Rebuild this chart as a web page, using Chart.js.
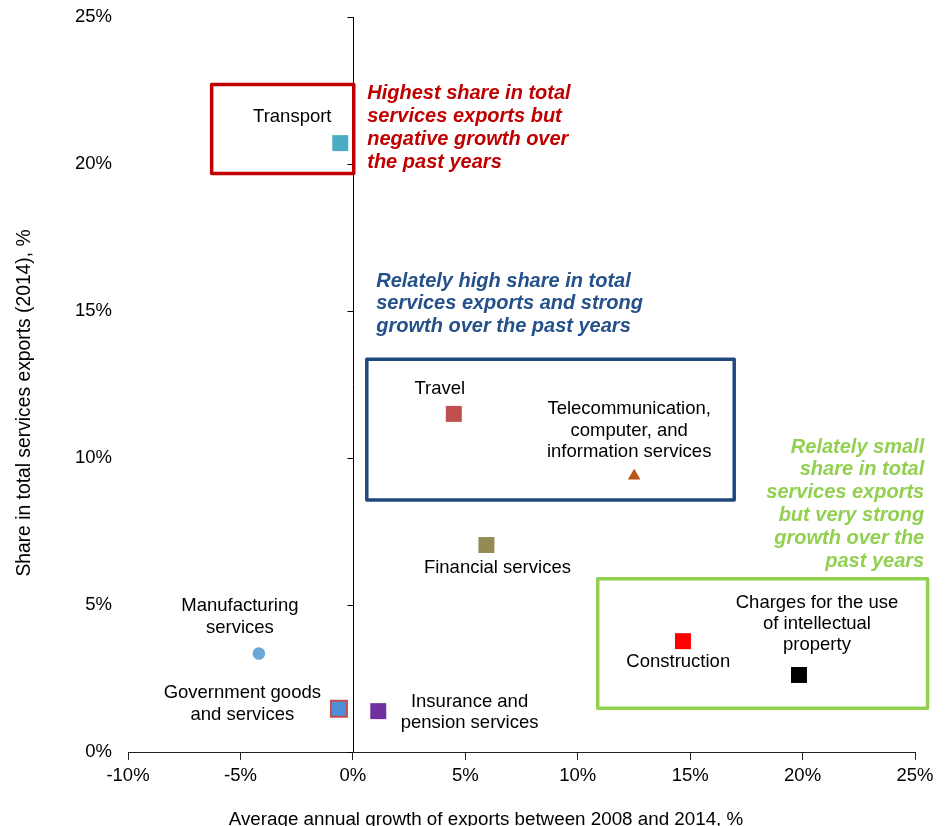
<!DOCTYPE html>
<html>
<head>
<meta charset="utf-8">
<script src="https://cdn.jsdelivr.net/npm/chart.js@4.4.1/dist/chart.umd.min.js"></script>
<style>
  html, body { margin: 0; padding: 0; background: #fff; }
  #wrap { width: 949px; height: 826px; position: relative; }
</style>
</head>
<body>
<div id="wrap"><canvas id="c" width="949" height="826"></canvas></div>
<script>
// ---- Data ----
const categories = [
  'Transport',
  'Travel',
  'Telecommunication, computer, and information services',
  'Financial services',
  'Manufacturing services',
  'Government goods and services',
  'Insurance and pension services',
  'Construction',
  'Charges for the use of intellectual property'
];
// Average annual growth of exports 2008-2014, %
const growth = [-0.56, 4.49, 12.51, 5.94, -4.18, -0.62, 1.13, 14.68, 19.84];
// Share in total services exports (2014), %
const share = [20.71, 11.50, 9.39, 7.04, 3.35, 1.47, 1.39, 3.77, 2.62];
const xTickValues = [-10, -5, 0, 5, 10, 15, 20, 25];
const yTickValues = [0, 5, 10, 15, 20, 25];
const pointLabelLines = [
  ['Transport'],
  ['Travel'],
  ['Telecommunication,', 'computer, and', 'information services'],
  ['Financial services'],
  ['Manufacturing', 'services'],
  ['Government goods', 'and services'],
  ['Insurance and', 'pension services'],
  ['Construction'],
  ['Charges for the use', 'of intellectual', 'property']
];
const xTitle = 'Average annual growth of exports between 2008 and 2014, %';
const yTitle = 'Share in total services exports (2014), %';

// ---- Styles ----
const pointFill = ['#4BACC6', '#C0504D', '#B8531A', '#948A54', '#6AA6D6', '#4F8FD9', '#7030A0', '#FF0000', '#000000'];
const pointBorder = ['#4BACC6', '#C0504D', '#B8531A', '#948A54', '#6AA6D6', '#C0504D', '#7030A0', '#FF0000', '#000000'];
const pointBorderW = [0, 0, 0, 0, 0, 2, 0, 0, 0];
const pointShape = ['rect', 'rect', 'triangle', 'rect', 'circle', 'rect', 'rect', 'rect', 'rect'];
const pointRad = [11.3, 11.3, 7.3, 11.3, 6.3, 11.3, 11.3, 11.3, 11.3];
// label offsets in px relative to point (center of first line)
const labelOffsets = [[-48, -26], [-14, -25], [-5, -66.6], [11, 22.6], [-19, -47.3], [-96.6, -15.4], [91.3, -9.3], [-4.7, 20.7], [18, -72.3]];

// annotation boxes (in axis units)
const boxes = [
  { x0: -6.28, x1: 0.04, y0: 19.68, y1: 22.70, color: '#C00000' },
  { x0: 0.62, x1: 16.96, y0: 8.57, y1: 13.36, color: '#1F497D' },
  { x0: 10.89, x1: 25.56, y0: 1.49, y1: 5.89, color: '#92D050' }
];
const notes = [
  { x: 0.64, y: 22.39, align: 'left', color: '#C00000',
    lines: ['Highest share in total', 'services exports but', 'negative growth over', 'the past years'] },
  { x: 1.04, y: 16.02, align: 'left', color: '#24518A',
    lines: ['Relately high share in total', 'services exports and strong', 'growth over the past years'] },
  { x: 25.41, y: 10.37, align: 'right', color: '#92D050',
    lines: ['Relately small', 'share in total', 'services exports', 'but very strong', 'growth over the', 'past years'] }
];

const FONT = "'Liberation Sans', Arial, sans-serif";
Chart.defaults.font.family = FONT;
Chart.defaults.color = '#000';

const overlay = {
  id: 'overlay',
  beforeDatasetsDraw(chart) {
    const ctx = chart.ctx, xs = chart.scales.x, ys = chart.scales.y;
    const x0 = Math.round(xs.getPixelForValue(0)) + 0.5;
    ctx.save();
    ctx.strokeStyle = '#000';
    ctx.lineWidth = 1;
    ctx.beginPath();
    ctx.moveTo(x0, ys.getPixelForValue(yTickValues[0]));
    ctx.lineTo(x0, ys.getPixelForValue(yTickValues[yTickValues.length - 1]));
    yTickValues.forEach(v => {
      const py = Math.round(ys.getPixelForValue(v)) + 0.5;
      ctx.moveTo(x0 - 6, py);
      ctx.lineTo(x0, py);
    });
    ctx.stroke();
    ctx.restore();
  },
  afterDatasetsDraw(chart) {
    const ctx = chart.ctx, xs = chart.scales.x, ys = chart.scales.y;
    ctx.save();
    // boxes
    boxes.forEach(b => {
      const l = xs.getPixelForValue(b.x0), r = xs.getPixelForValue(b.x1);
      const t = ys.getPixelForValue(b.y1), bt = ys.getPixelForValue(b.y0);
      ctx.strokeStyle = b.color;
      ctx.lineWidth = 3.5;
      ctx.lineJoin = 'round';
      ctx.strokeRect(l, t, r - l, bt - t);
    });
    // point labels
    ctx.fillStyle = '#000';
    ctx.font = '18.5px ' + FONT;
    ctx.textAlign = 'center';
    ctx.textBaseline = 'middle';
    for (let i = 0; i < categories.length; i++) {
      const px = xs.getPixelForValue(growth[i]);
      const py = ys.getPixelForValue(share[i]);
      const [dx, dy] = labelOffsets[i];
      pointLabelLines[i].forEach((ln, k) => {
        ctx.fillText(ln, px + dx, py + dy + k * 21.2);
      });
    }
    // notes
    ctx.font = 'italic bold 20px ' + FONT;
    notes.forEach(n => {
      ctx.fillStyle = n.color;
      ctx.textAlign = n.align;
      const px = xs.getPixelForValue(n.x);
      const py = ys.getPixelForValue(n.y);
      n.lines.forEach((ln, k) => ctx.fillText(ln, px, py + k * 22.8));
    });
    // axis titles
    ctx.fillStyle = '#000';
    ctx.font = '18.8px ' + FONT;
    ctx.textAlign = 'center';
    ctx.textBaseline = 'alphabetic';
    ctx.fillText(xTitle, 486, 825);
    ctx.font = '19.3px ' + FONT;
    ctx.translate(25, 403);
    ctx.rotate(-Math.PI / 2);
    ctx.textBaseline = 'middle';
    ctx.fillText(yTitle, 0, 0);
    ctx.restore();
  }
};

new Chart(document.getElementById('c'), {
  type: 'scatter',
  data: {
    datasets: [{
      label: 'Services',
      data: growth.map((g, i) => ({ x: g, y: share[i] })),
      backgroundColor: pointFill,
      borderColor: pointBorder,
      borderWidth: pointBorderW,
      pointStyle: pointShape,
      pointRadius: pointRad,
      pointHoverRadius: pointRad
    }]
  },
  options: {
    responsive: false,
    animation: false,
    layout: { padding: { top: 17, right: 34, left: 0, bottom: 0 } },
    plugins: { legend: { display: false }, tooltip: { enabled: false } },
    scales: {
      x: {
        type: 'linear',
        min: -10, max: 25,
        afterBuildTicks: s => { s.ticks = xTickValues.map(v => ({ value: v })); },
        afterFit: s => { s.height = 74; s.paddingLeft = 0; s.paddingRight = 0; },
        ticks: { font: { size: 18.5 }, color: '#000', padding: 5, callback: v => v + '%', maxRotation: 0 },
        grid: { display: true, drawOnChartArea: false, drawTicks: true, tickLength: 8, color: '#222' },
        border: { display: true, color: '#222', width: 1 }
      },
      y: {
        type: 'linear',
        min: 0, max: 25,
        afterBuildTicks: s => { s.ticks = yTickValues.map(v => ({ value: v })); },
        afterFit: s => { s.width = 128; s.paddingTop = 0; s.paddingBottom = 0; },
        ticks: { font: { size: 18.5 }, color: '#000', padding: 16, callback: v => v + '%' },
        grid: { display: false, drawTicks: false },
        border: { display: false }
      }
    }
  },
  plugins: [overlay]
});
</script>
</body>
</html>
